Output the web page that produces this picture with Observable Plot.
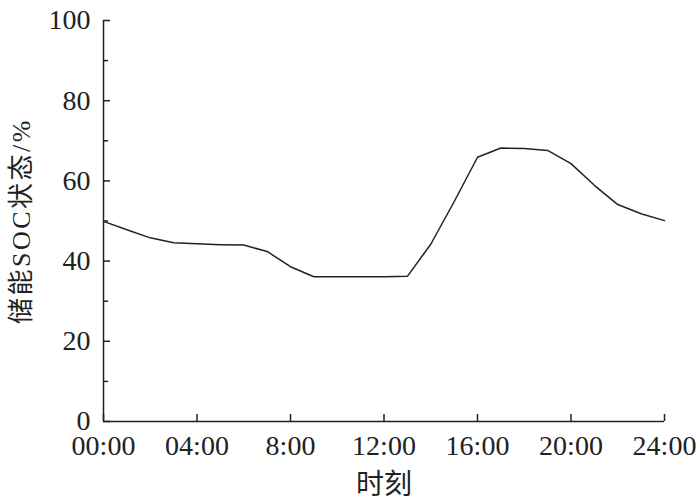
<!DOCTYPE html>
<html><head><meta charset="utf-8">
<script src="https://cdn.jsdelivr.net/npm/d3@7"></script>
<script src="https://cdn.jsdelivr.net/npm/@observablehq/plot@0.6"></script>
<style>body{margin:0;background:#fff}</style>
</head><body><div id="chart"></div>
<script>
const hours = [0,1,2,3,4,5,6,7,8,9,10,11,12,13,14,15,16,17,18,19,20,21,22,23,24];
const soc = [49.9,47.8,45.8,44.6,44.3,44.1,44.0,42.4,38.6,36.1,36.1,36.1,36.1,36.2,44.2,54.8,65.9,68.2,68.1,67.6,64.3,58.9,54.1,51.8,50.1];
const xTicks = [0,4,8,12,16,20,24];
const xTickLabels = ["00:00","04:00","8:00","12:00","16:00","20:00","24:00"];
const yTicks = [0,20,40,60,80,100];
const yMinorTicks = [10,30,50,70,90];
const yLabel = "储能SOC状态/%";
const xLabel = "时刻";

const data = hours.map((h, i) => ({h, soc: soc[i]}));
const ink = "#222";
const chart = Plot.plot({
  width: 700, height: 501,
  marginLeft: 103, marginRight: 36, marginTop: 20, marginBottom: 80,
  style: {fontFamily: '"Liberation Serif","Noto Sans CJK SC",serif', fontSize: "28px", color: ink, background: "#fff"},
  x: {domain: [0, 24]},
  y: {domain: [0, 100]},
  marks: [
    Plot.axisX(xTicks, {tickSize: 0, tickPadding: 14, tickFormat: d => xTickLabels[xTicks.indexOf(d)], label: null, fontSize: 28}),
    Plot.axisX(xTicks, {tickSize: -7, text: null, label: null, strokeWidth: 1.5}),
    Plot.axisY(yTicks, {tickSize: 0, tickPadding: 13, label: null, fontSize: 28}),
    Plot.axisY(yTicks, {tickSize: -7, text: null, label: null, strokeWidth: 1.5}),
    Plot.axisY(yMinorTicks, {tickSize: -5, text: null, label: null, strokeWidth: 1.5}),
    Plot.ruleX([0], {strokeWidth: 1.5}),
    Plot.ruleY([0], {strokeWidth: 1.5}),
    Plot.line(data, {x: "h", y: "soc", stroke: ink, strokeWidth: 1.5}),
    Plot.text([yLabel], {frameAnchor: "left", textAnchor: "middle", dx: -82, rotate: -90, fontSize: 26}),
    Plot.text([xLabel], {frameAnchor: "bottom", dy: 72, fontSize: 28})
  ]
});
chart.querySelectorAll("text").forEach(t => {
  if (t.textContent === yLabel) t.setAttribute("letter-spacing", "2.5");
});
document.getElementById("chart").appendChild(chart);
</script>
</body></html>
